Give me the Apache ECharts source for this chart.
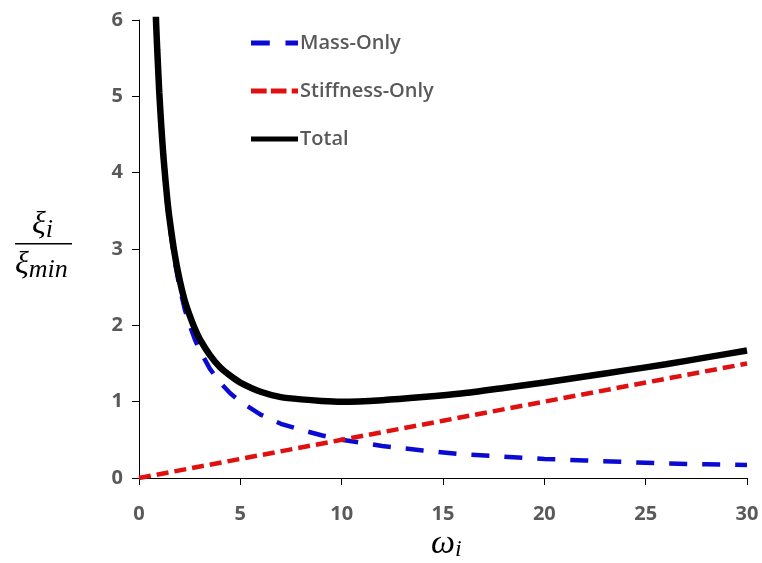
<!DOCTYPE html>
<html><head><meta charset="utf-8">
<script src="https://cdn.jsdelivr.net/npm/echarts@6/dist/echarts.min.js"></script>
<style>html,body{margin:0;padding:0;background:#fff}#c{width:762px;height:563px}</style>
</head><body><div id="c"></div>
<script>
// omega values sampled for mass-only / total curves
var omega = [0.8,0.85,0.9,1,1.1,1.2,1.3,1.4,1.5,1.75,2,2.25,2.5,2.75,3,3.5,4,4.5,5,6,7,8,9,10,12,14,16,18,20,22,24,26,28,30];
var massOnly = [6.25,5.88,5.56,5.0,4.55,4.17,3.85,3.57,3.33,2.86,2.5,2.22,2.0,1.82,1.67,1.43,1.25,1.11,1.0,0.83,0.71,0.63,0.56,0.5,0.42,0.36,0.31,0.28,0.25,0.23,0.21,0.19,0.18,0.17];
var total = [6.29,5.92,5.61,5.05,4.61,4.23,3.92,3.64,3.41,2.95,2.6,2.33,2.13,1.96,1.82,1.61,1.45,1.34,1.25,1.13,1.06,1.03,1.01,1.0,1.02,1.06,1.11,1.18,1.25,1.33,1.41,1.49,1.58,1.67];
var omegaStiff = [0,5,10,15,20,25,30];
var stiffOnly = [0,0.25,0.5,0.75,1.0,1.25,1.5];
var seriesNames = ['Mass-Only','Stiffness-Only','Total'];

function pairs(xs, ys){ return xs.map(function(x,i){ return [x, ys[i]]; }); }

var labelColor = '#595959';
var blue = '#0a0ad2', red = '#e01010';
var chart = echarts.init(document.getElementById('c'), null, {renderer:'canvas'});
chart.setOption({
  animation:false,
  backgroundColor:'#ffffff',
  grid:{left:139, right:15, top:20, bottom:85, containLabel:false},
  legend:{
    orient:'vertical', left:246, top:28, itemWidth:47, itemHeight:5, itemGap:28,
    symbolKeepAspect:false,
    data:[
      {name:seriesNames[0], icon:'path://M0,0H18V5H0Z M33,0H45V5H33Z'},
      {name:seriesNames[1], icon:'path://M0,0H15V5H0Z M19,0H34V5H19Z M39,0H45V5H39Z'},
      {name:seriesNames[2], icon:'path://M0,0H45V5H0Z'}
    ],
    textStyle:{color:labelColor, fontFamily:'Open Sans', fontWeight:600, fontSize:20, padding:[0,0,0,-3]}
  },
  xAxis:{
    type:'value', min:0, max:30, interval:5,
    axisLine:{show:true, onZero:false, lineStyle:{color:'#000', width:1}},
    axisTick:{show:true, length:7, lineStyle:{color:'#000'}},
    splitLine:{show:false},
    axisLabel:{color:labelColor, fontFamily:'Open Sans', fontWeight:700, fontSize:20, margin:26}
  },
  yAxis:{
    type:'value', min:0, max:6, interval:1,
    axisLine:{show:true, onZero:false, lineStyle:{color:'#000', width:1}},
    axisTick:{show:true, length:7, lineStyle:{color:'#000'}},
    splitLine:{show:false},
    axisLabel:{color:labelColor, fontFamily:'Open Sans', fontWeight:700, fontSize:20, margin:16}
  },
  series:[
    {name:seriesNames[0], type:'line', data:pairs(omega, massOnly), showSymbol:false, symbol:'none', z:2,
     lineStyle:{color:blue, width:4.5, type:[18,15]}, itemStyle:{color:blue}},
    {name:seriesNames[1], type:'line', data:pairs(omegaStiff, stiffOnly), showSymbol:false, symbol:'none', z:3,
     lineStyle:{color:red, width:4.5, type:[12,6]}, itemStyle:{color:red}},
    {name:seriesNames[2], type:'line', data:pairs(omega, total), showSymbol:false, symbol:'none', z:4, smooth:0.2,
     lineStyle:{color:'#000', width:6.5}, itemStyle:{color:'#000'}}
  ],
  graphic:[
    {type:'text', left:32, top:209, style:{text:'{a|ξ}{b|i}', rich:{
      a:{fontFamily:'Liberation Serif', fontStyle:'italic', fontSize:32, fill:'#000'},
      b:{fontFamily:'Liberation Serif', fontStyle:'italic', fontSize:26, fill:'#000', padding:[10,0,0,0]}
    }}},
    {type:'rect', shape:{x:15, y:243, width:57, height:1.5}, style:{fill:'#000'}},
    {type:'text', left:15, top:249, style:{text:'{a|ξ}{b|min}', rich:{
      a:{fontFamily:'Liberation Serif', fontStyle:'italic', fontSize:32, fill:'#000'},
      b:{fontFamily:'Liberation Serif', fontStyle:'italic', fontSize:26, fill:'#000', padding:[10,0,0,0]}
    }}},
    {type:'text', left:431, top:527, style:{text:'{a|ω}{b|i}', rich:{
      a:{fontFamily:'Liberation Serif', fontStyle:'italic', fontSize:34, fill:'#000'},
      b:{fontFamily:'Liberation Serif', fontStyle:'italic', fontSize:24, fill:'#000', padding:[12,0,0,0]}
    }}}
  ]
});
</script></body></html>
